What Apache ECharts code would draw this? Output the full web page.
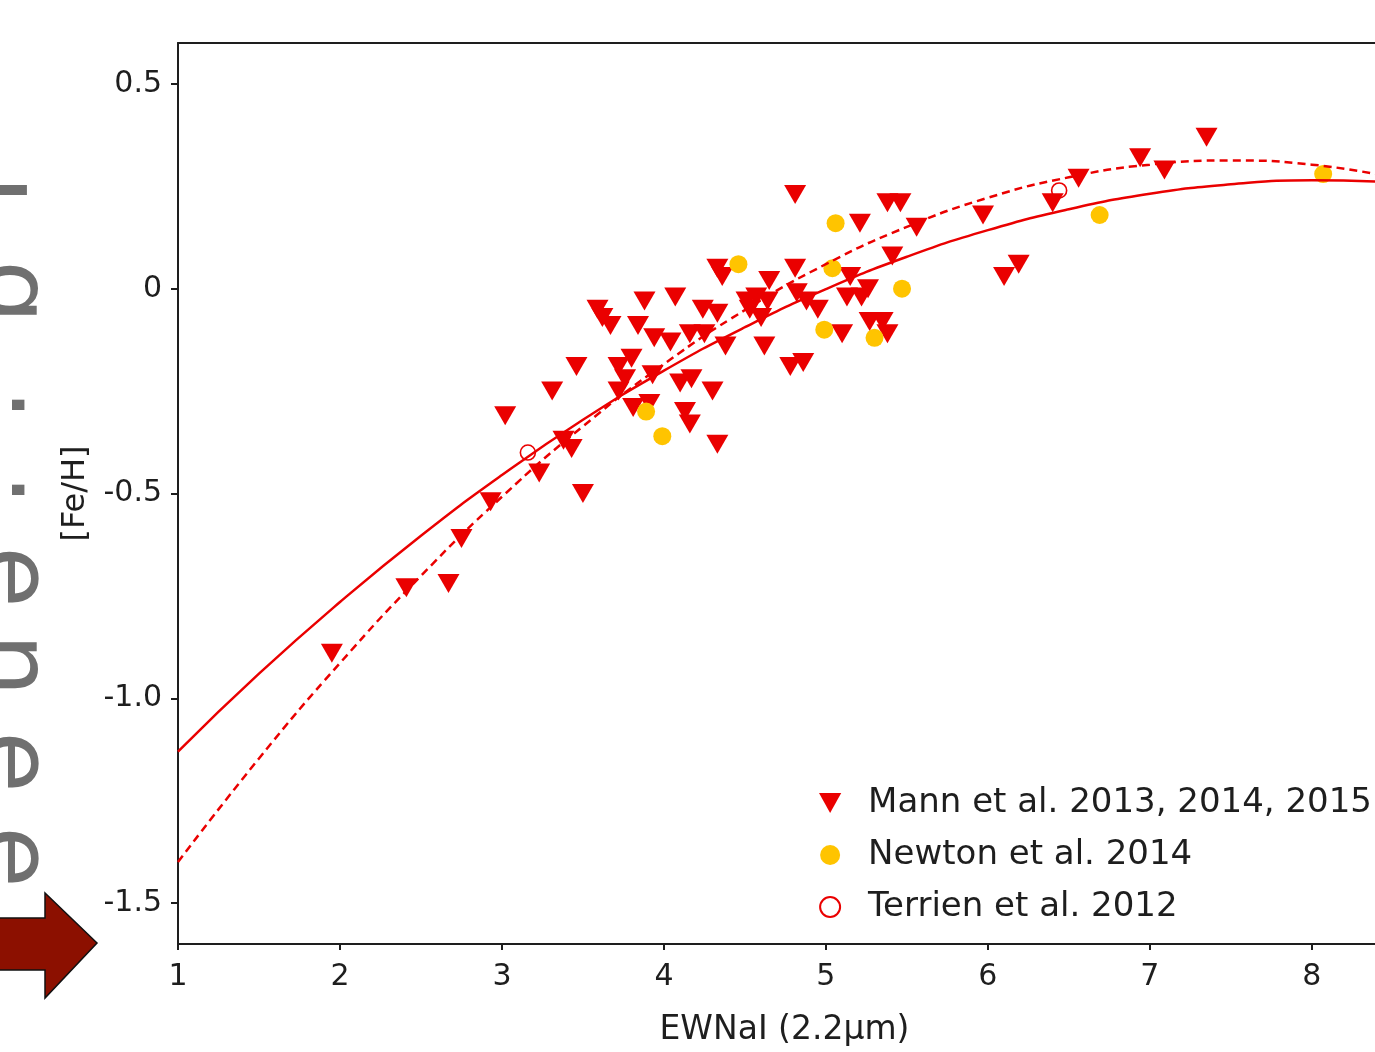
<!DOCTYPE html>
<html><head><meta charset="utf-8">
<script src="https://cdn.jsdelivr.net/npm/echarts@6/dist/echarts.min.js"></script>
<style>html,body{margin:0;padding:0;background:#fff;}#c{width:1375px;height:1052px;}</style>
</head><body><div id="c"></div>
<script>
const xTicks = [1, 2, 3, 4, 5, 6, 7, 8];
const yTicks = [-1.5, -1.0, -0.5, 0, 0.5];
const seriesNames = ['Mann et al. 2013, 2014, 2015', 'Newton et al. 2014', 'Terrien et al. 2012'];
const xTitle = 'EWNaI (2.2µm)';
const yTitle = '[Fe/H]';

const mann = [
  [1.95,-0.89],[2.41,-0.73],[2.67,-0.72],[2.75,-0.61],[2.93,-0.52],[3.02,-0.31],[3.23,-0.45],[3.31,-0.25],
  [3.38,-0.37],[3.43,-0.39],[3.46,-0.19],[3.50,-0.50],[3.59,-0.05],[3.62,-0.07],[3.67,-0.09],[3.88,-0.03],
  [4.07,-0.02],[4.24,-0.05],[4.33,-0.06],[3.84,-0.09],[3.94,-0.12],[4.04,-0.13],[4.16,-0.11],[4.25,-0.11],
  [4.38,-0.14],[3.72,-0.19],[3.80,-0.17],[3.93,-0.21],[3.72,-0.25],[3.76,-0.22],[3.81,-0.29],[3.91,-0.28],
  [4.10,-0.23],[4.17,-0.22],[4.30,-0.25],[4.13,-0.30],[4.16,-0.33],[4.33,-0.38],[4.33,0.05],[4.36,0.03],
  [4.65,0.02],[4.81,0.05],[4.51,-0.03],[4.57,-0.02],[4.64,-0.03],[4.53,-0.05],[4.60,-0.07],[4.62,-0.14],
  [4.82,-0.01],[4.88,-0.03],[4.95,-0.05],[4.78,-0.19],[4.86,-0.18],[5.10,-0.11],[5.15,0.03],[5.26,0.00],
  [5.13,-0.02],[5.22,-0.02],[5.27,-0.08],[5.35,-0.08],[5.38,-0.11],[5.41,0.08],[4.81,0.23],[5.38,0.21],
  [5.46,0.21],[5.21,0.16],[5.56,0.15],[5.97,0.18],[6.10,0.03],[6.19,0.06],[6.40,0.21],[6.56,0.27],
  [6.94,0.32],[7.09,0.29],[7.35,0.37]
];
const newton = [
  [3.89,-0.30],[3.99,-0.36],[4.46,0.06],[5.06,0.16],[5.04,0.05],[5.47,0.00],[4.99,-0.10],[5.30,-0.12],
  [6.69,0.18],[8.07,0.28]
];
const terrien = [[3.16,-0.40],[6.44,0.24]];
const fitSolid = [
  [1,-1.13],[1.5,-0.94],[2,-0.765],[2.5,-0.603],[3,-0.455],[3.5,-0.32],[4,-0.20],[4.5,-0.094],
  [5,-0.001],[5.5,0.078],[6,0.143],[6.5,0.194],[7,0.232],[7.5,0.255],[8,0.265],[8.5,0.26]
];
const fitDashed = [
  [1,-1.40],[1.5,-1.147],[2,-0.914],[2.5,-0.701],[3,-0.508],[3.5,-0.336],[4,-0.184],[4.5,-0.052],
  [5,0.06],[5.5,0.151],[6,0.222],[6.5,0.272],[7,0.303],[7.5,0.313],[8,0.303],[8.5,0.272]
];

const RED = '#ea0000';
const YEL = '#ffc400';
const FONT = 'DejaVu Sans';
const TXT = '#1e1e1e';
const X_MIN = 1, X_MAX = 8.39, Y_MIN = -1.6, Y_MAX = 0.6;

const chart = echarts.init(document.getElementById('c'), null, {renderer: 'canvas'});

function sideChar(ch, y, x) {
  return {
    type: 'text', x: x, y: y, rotation: -Math.PI / 2, z: 1,
    style: {text: ch, font: '100px "DejaVu Sans"', fill: '#707070', align: 'center', verticalAlign: 'middle'}
  };
}

chart.setOption({
  animation: false,
  backgroundColor: '#fff',
  grid: {left: 178, top: 43, right: 0, height: 901, show: false, containLabel: false},
  xAxis: [{
    type: 'value', min: X_MIN, max: X_MAX, interval: 1,
    name: xTitle, nameLocation: 'middle', nameGap: 70,
    nameTextStyle: {fontFamily: FONT, fontSize: 33, color: TXT, padding: [0, 0, 0, 16]},
    axisLine: {show: true, onZero: false, lineStyle: {color: '#1e1e1e', width: 2}},
    axisTick: {show: true, length: 6, lineStyle: {color: '#1e1e1e', width: 2}, customValues: xTicks},
    axisLabel: {fontFamily: FONT, fontSize: 30, color: TXT, margin: 18, customValues: xTicks, formatter: v => String(v)},
    splitLine: {show: false}
  }, {
    type: 'value', position: 'top', min: X_MIN, max: X_MAX,
    axisLine: {show: true, onZero: false, lineStyle: {color: '#1e1e1e', width: 2}},
    axisTick: {show: false}, axisLabel: {show: false}, splitLine: {show: false}
  }],
  yAxis: {
    type: 'value', min: Y_MIN, max: Y_MAX,
    name: yTitle, nameLocation: 'middle', nameGap: 86, nameRotate: 90,
    nameTextStyle: {fontFamily: FONT, fontSize: 32, color: TXT},
    axisLine: {show: true, onZero: false, lineStyle: {color: '#1e1e1e', width: 2}},
    axisTick: {show: true, length: 7, lineStyle: {color: '#1e1e1e', width: 2}, customValues: yTicks},
    axisLabel: {fontFamily: FONT, fontSize: 30, color: TXT, margin: 16, customValues: yTicks,
      formatter: v => (Math.abs(v) < 1e-9 ? '0' : v.toFixed(1))},
    splitLine: {show: false}
  },
  legend: {
    orient: 'vertical', left: 814, top: 781, itemWidth: 66, itemHeight: 20, itemGap: 18,
    data: seriesNames,
    textStyle: {fontFamily: FONT, fontSize: 34, color: TXT, lineHeight: 34},
    symbolRotate: 'inherit'
  },
  graphic: [
    {type: 'polygon', z: 10, shape: {points: [[-2,918],[45,918],[45,893],[97,943],[45,998],[45,970],[-2,970]]},
     style: {fill: '#8c1000', stroke: '#111', lineWidth: 1.5}},
    sideChar('I', 190, -20),
    sideChar('g', 292, 8),
    sideChar('.', 405, 38),
    sideChar('.', 490, 38),
    sideChar('e', 577, 8),
    sideChar('n', 665, 8),
    sideChar('e', 762, 8),
    sideChar('e', 857, 8)
  ],
  series: [
    {name: seriesNames[0], type: 'scatter', data: mann, symbol: 'path://M0,0L20,0L10,18Z', symbolSize: [22, 19],
     itemStyle: {color: RED, opacity: 1}, z: 2},
    {name: seriesNames[1], type: 'scatter', data: newton, symbol: 'circle', symbolSize: 18,
     itemStyle: {color: YEL, opacity: 1}, z: 3},
    {name: 'fitSolid', type: 'line', data: fitSolid, smooth: true, showSymbol: false, symbol: 'none',
     lineStyle: {color: RED, width: 2.5}, z: 4},
    {name: 'fitDashed', type: 'line', data: fitDashed, smooth: true, showSymbol: false, symbol: 'none',
     lineStyle: {color: RED, width: 2.5, type: [8, 5]}, z: 4},
    {name: seriesNames[2], type: 'scatter', data: terrien, symbol: 'circle', symbolSize: 15,
     itemStyle: {color: 'rgba(255,255,255,0)', borderColor: RED, borderWidth: 1.6, opacity: 1}, z: 5}
  ]
});
</script></body></html>
